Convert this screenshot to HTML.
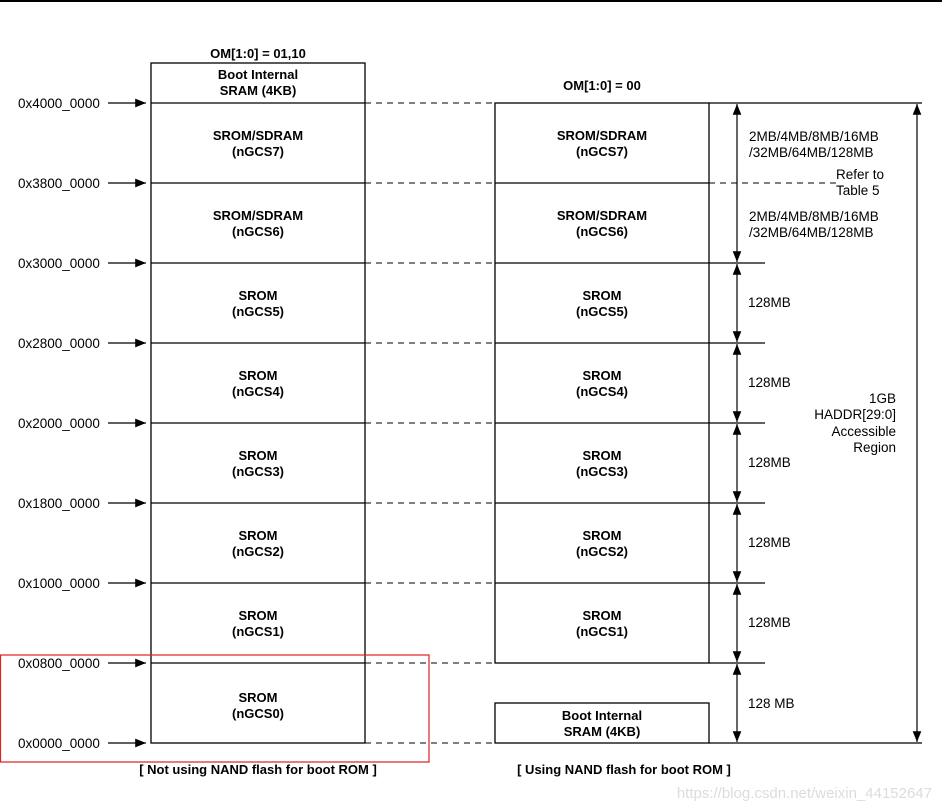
<!DOCTYPE html>
<html><head><meta charset="utf-8"><style>html,body{margin:0;padding:0;background:#fff}svg{display:block}</style></head><body>
<svg width="942" height="812" viewBox="0 0 942 812" xmlns="http://www.w3.org/2000/svg" font-family="Liberation Sans, sans-serif" font-size="13.5">
<defs><marker id="a" viewBox="0 0 10 10" refX="10" refY="5" markerWidth="9" markerHeight="9" orient="auto-start-reverse"><path d="M0,1 L10,5 L0,9 z" fill="#000"/></marker></defs>
<rect x="0" y="0" width="942" height="2" fill="#000"/>
<g stroke="#000" stroke-width="1.3" fill="none">
<rect x="151" y="63" width="214" height="680"/>
<rect x="495" y="103" width="214" height="560"/>
<rect x="495" y="703" width="214" height="40"/>
<line x1="151" y1="103" x2="365" y2="103"/><line x1="151" y1="183" x2="365" y2="183"/><line x1="151" y1="263" x2="365" y2="263"/><line x1="151" y1="343" x2="365" y2="343"/><line x1="151" y1="423" x2="365" y2="423"/><line x1="151" y1="503" x2="365" y2="503"/><line x1="151" y1="583" x2="365" y2="583"/><line x1="151" y1="663" x2="365" y2="663"/>
<line x1="495" y1="183" x2="709" y2="183"/><line x1="495" y1="263" x2="765" y2="263"/><line x1="495" y1="343" x2="765" y2="343"/><line x1="495" y1="423" x2="765" y2="423"/><line x1="495" y1="503" x2="765" y2="503"/><line x1="495" y1="583" x2="765" y2="583"/><line x1="709" y1="663" x2="765" y2="663"/>
<line x1="709" y1="103" x2="922" y2="103"/><line x1="709" y1="743" x2="922" y2="743"/>
</g>
<g stroke="#000" stroke-width="1" stroke-dasharray="6,5">
<line x1="365" y1="103" x2="495" y2="103"/><line x1="365" y1="183" x2="495" y2="183"/><line x1="365" y1="263" x2="495" y2="263"/><line x1="365" y1="343" x2="495" y2="343"/><line x1="365" y1="423" x2="495" y2="423"/><line x1="365" y1="503" x2="495" y2="503"/><line x1="365" y1="583" x2="495" y2="583"/><line x1="365" y1="663" x2="495" y2="663"/><line x1="365" y1="743" x2="495" y2="743"/>
<line x1="709" y1="183" x2="838" y2="183"/>
</g>
<g stroke="#000" stroke-width="1.2" marker-end="url(#a)">
<line x1="108" y1="103" x2="146" y2="103"/><line x1="108" y1="183" x2="146" y2="183"/><line x1="108" y1="263" x2="146" y2="263"/><line x1="108" y1="343" x2="146" y2="343"/><line x1="108" y1="423" x2="146" y2="423"/><line x1="108" y1="503" x2="146" y2="503"/><line x1="108" y1="583" x2="146" y2="583"/><line x1="108" y1="663" x2="146" y2="663"/><line x1="108" y1="743" x2="146" y2="743"/>
</g>
<g stroke="#000" stroke-width="1.2" marker-end="url(#a)" marker-start="url(#a)">
<line x1="737" y1="104" x2="737" y2="262"/><line x1="737" y1="264" x2="737" y2="342"/><line x1="737" y1="344" x2="737" y2="422"/><line x1="737" y1="424" x2="737" y2="502"/><line x1="737" y1="504" x2="737" y2="582"/><line x1="737" y1="584" x2="737" y2="662"/><line x1="737" y1="664" x2="737" y2="742"/>
<line x1="917" y1="104" x2="917" y2="742"/>
</g>
<rect x="0.5" y="655" width="428.5" height="107" fill="none" stroke="#e02020" stroke-width="1.2"/>
<g fill="#000">
<g text-anchor="start"><text x="18" y="108">0x4000_0000</text><text x="18" y="188">0x3800_0000</text><text x="18" y="268">0x3000_0000</text><text x="18" y="348">0x2800_0000</text><text x="18" y="428">0x2000_0000</text><text x="18" y="508">0x1800_0000</text><text x="18" y="588">0x1000_0000</text><text x="18" y="668">0x0800_0000</text><text x="18" y="748">0x0000_0000</text></g>
<g font-weight="bold" text-anchor="middle" font-size="13">
<text x="258" y="58">OM[1:0] = 01,10</text><text x="602" y="90">OM[1:0] = 00</text>
<text x="258" y="79">Boot Internal</text><text x="258" y="95">SRAM (4KB)</text>
<text x="258" y="140">SROM/SDRAM</text><text x="258" y="156">(nGCS7)</text>
<text x="258" y="220">SROM/SDRAM</text><text x="258" y="236">(nGCS6)</text>
<text x="258" y="300">SROM</text><text x="258" y="316">(nGCS5)</text>
<text x="258" y="380">SROM</text><text x="258" y="396">(nGCS4)</text>
<text x="258" y="460">SROM</text><text x="258" y="476">(nGCS3)</text>
<text x="258" y="540">SROM</text><text x="258" y="556">(nGCS2)</text>
<text x="258" y="620">SROM</text><text x="258" y="636">(nGCS1)</text>
<text x="258" y="702">SROM</text><text x="258" y="718">(nGCS0)</text>
<text x="602" y="140">SROM/SDRAM</text><text x="602" y="156">(nGCS7)</text>
<text x="602" y="220">SROM/SDRAM</text><text x="602" y="236">(nGCS6)</text>
<text x="602" y="300">SROM</text><text x="602" y="316">(nGCS5)</text>
<text x="602" y="380">SROM</text><text x="602" y="396">(nGCS4)</text>
<text x="602" y="460">SROM</text><text x="602" y="476">(nGCS3)</text>
<text x="602" y="540">SROM</text><text x="602" y="556">(nGCS2)</text>
<text x="602" y="620">SROM</text><text x="602" y="636">(nGCS1)</text>
<text x="602" y="720">Boot Internal</text><text x="602" y="736">SRAM (4KB)</text>
<text x="258" y="774">[ Not using NAND flash for boot ROM ]</text>
<text x="624" y="774">[ Using NAND flash for boot ROM ]</text>
</g>
<text x="749" y="141">2MB/4MB/8MB/16MB</text><text x="749" y="157">/32MB/64MB/128MB</text>
<text x="836" y="179">Refer to</text><text x="836" y="195">Table 5</text>
<text x="749" y="221">2MB/4MB/8MB/16MB</text><text x="749" y="237">/32MB/64MB/128MB</text>
<text x="748" y="307">128MB</text><text x="748" y="387">128MB</text><text x="748" y="467">128MB</text><text x="748" y="547">128MB</text><text x="748" y="627">128MB</text><text x="748" y="708">128 MB</text>
<g text-anchor="end"><text x="896" y="403">1GB</text><text x="896" y="419">HADDR[29:0]</text><text x="896" y="436">Accessible</text><text x="896" y="452">Region</text></g>
<text x="932" y="798" text-anchor="end" fill="#dcdcdc" font-size="15">https://blog.csdn.net/weixin_44152647</text>
</g>
</svg>
</body></html>
